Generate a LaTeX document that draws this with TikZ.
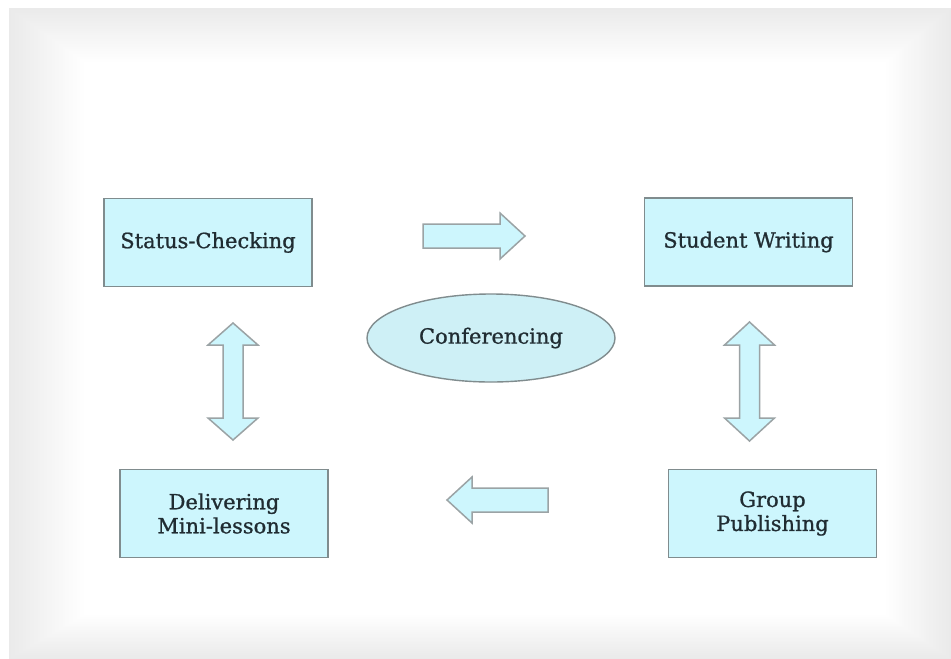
\documentclass[tikz,border=0pt]{standalone}
\usepackage{fontspec}
\setmainfont{DejaVu Serif}
\newfontfamily\lblfont{DejaVu Serif}[FakeBold=0.9]
\usetikzlibrary{shapes.geometric}
\definecolor{shadowgray}{RGB}{234,234,234}
\definecolor{boxfill}{RGB}{205,246,253}
\definecolor{ellfill}{RGB}{206,240,246}
\definecolor{boxline}{RGB}{128,140,142}
\definecolor{arrline}{RGB}{155,163,165}
\definecolor{txt}{RGB}{32,44,50}
\tikzset{
  stagebox/.style={draw=boxline, fill=boxfill, line width=1.7pt, minimum width=208pt, minimum height=88pt, inner sep=0pt, align=center, text=txt, font=\lblfont\fontsize{21}{24}\selectfont},
  hubell/.style={ellipse, draw=boxline, fill=ellfill, line width=1.4pt, minimum width=248pt, minimum height=88pt, inner sep=0pt, text=txt, font=\lblfont\fontsize{21}{24}\selectfont},
  blockarrow/.style={draw=arrline, fill=boxfill, line width=1.5pt, line join=miter}
}
\begin{document}
\begin{tikzpicture}[x=1pt,y=-1pt]
\useasboundingbox (0,0) rectangle (951,659);
\fill[white] (0,0) rectangle (951,659);
% soft frame shadow
\foreach \i in {0,...,60}{
  \pgfmathsetmacro\t{\i/60}
  \pgfmathtruncatemacro\p{100*\t}
  \fill[white!\p!shadowgray] ({9+75*\t},{8+54*\t}) rectangle ({951-65*\t},{659-44*\t});
}
% stages
\node[stagebox] (status) at (208,242.5) {Status-Checking};
\node[stagebox] (writing) at (748.5,242) {Student Writing};
\node[stagebox] (mini) at (224,513.5) {Delivering\\Mini-lessons};
\node[stagebox] (publish) at (772.5,513.5) {Group\\Publishing};
\node[hubell] (conf) at (491,338) {Conferencing};
% block arrows
\draw[blockarrow] (423,224) -- (500,224) -- (500,213) -- (525,236) -- (500,259) -- (500,248) -- (423,248) -- cycle;
\draw[blockarrow] (548,488) -- (472,488) -- (472,477) -- (447,500) -- (472,523) -- (472,512) -- (548,512) -- cycle;
\draw[blockarrow] (233,323) -- (258,345) -- (243,345) -- (243,418) -- (258,418) -- (233,440) -- (208,418) -- (223,418) -- (223,345) -- (208,345) -- cycle;
\draw[blockarrow] (749.5,322) -- (774.5,345) -- (759.5,345) -- (759.5,418) -- (774.5,418) -- (749.5,441) -- (724.5,418) -- (739.5,418) -- (739.5,345) -- (724.5,345) -- cycle;
\end{tikzpicture}
\end{document}
